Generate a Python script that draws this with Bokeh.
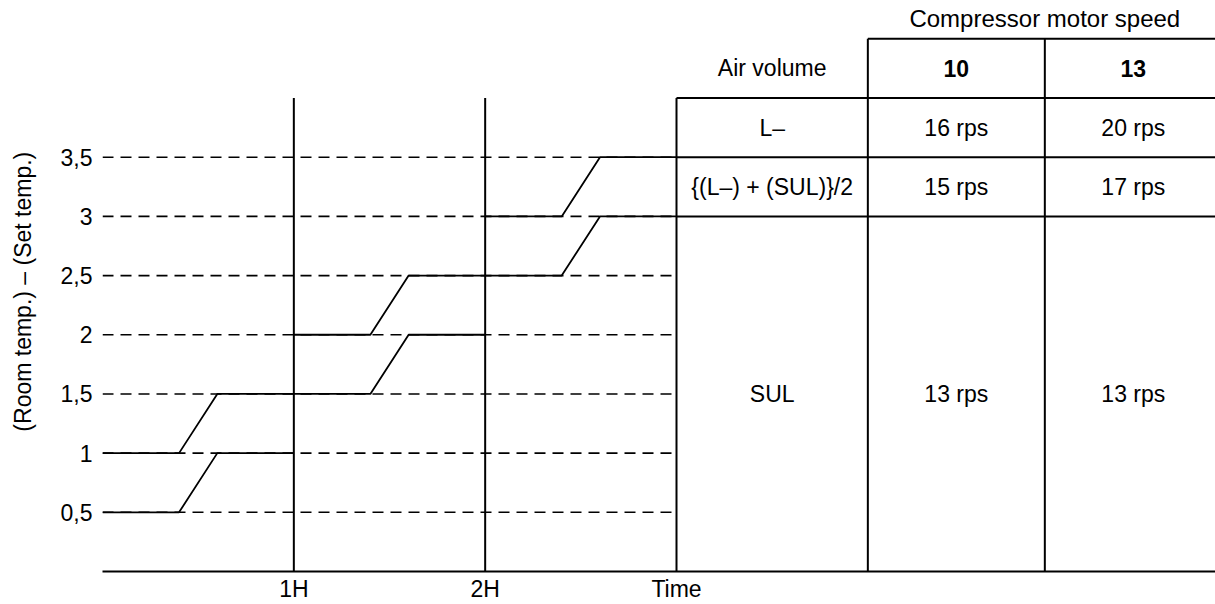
from bokeh.plotting import figure
from bokeh.layouts import row
from bokeh.models import Range1d, FixedTicker, ColumnDataSource, Label
from bokeh.core.properties import value
from bokeh.embed import file_html
from bokeh.resources import INLINE

# ---------------- data ----------------
levels = [0.5, 1, 1.5, 2, 2.5, 3, 3.5]
level_labels = ["0,5", "1", "1,5", "2", "2,5", "3", "3,5"]
hour_ticks = [1, 2, 3]
hour_labels = ["1H", "2H", "Time"]

# step curves (x in hours, y = room temp - set temp)
lower_x = [[0, 0.4, 0.6, 1], [1, 1.4, 1.6, 2], [2, 2.4, 2.6, 3]]
lower_y = [[0.5, 0.5, 1.0, 1.0], [1.5, 1.5, 2.0, 2.0], [2.5, 2.5, 3.0, 3.0]]
upper_x = [[0, 0.4, 0.6, 1], [1, 1.4, 1.6, 2], [2, 2.4, 2.6, 3]]
upper_y = [[1.0, 1.0, 1.5, 1.5], [2.0, 2.0, 2.5, 2.5], [3.0, 3.0, 3.5, 3.5]]

# table
table_title = "Compressor motor speed"
air_volume_header = "Air volume"
speed_headers = ["10", "13"]
air_volume = ["L–", "{(L–) + (SUL)}/2", "SUL"]
speed_10 = ["16 rps", "15 rps", "13 rps"]
speed_13 = ["20 rps", "17 rps", "13 rps"]
y_title = "(Room temp.) – (Set temp.)"

# ---------------- layout ----------------
FONT = "Liberation Sans"
FS = "23px"
INK = "#000000"

col_edges = [3, 4, 4.925, 5.85]          # table column boundaries (x units)
row_edges = [4.5, 4.0, 3.5, 3.0, 0.0]    # table row boundaries (y units)

# ---- narrow strip holding the rotated y title ----
lf = figure(width=50, height=604, output_backend="svg", toolbar_location=None,
            x_axis_type=None, y_axis_type=None,
            x_range=Range1d(0, 50), y_range=Range1d(0, 604),
            min_border_left=0, min_border_right=0, min_border_top=0, min_border_bottom=0)
lf.grid.visible = False
lf.outline_line_color = None
lf.background_fill_color = "white"
lf.border_fill_color = "white"
lf.text(x=[22.5], y=[296], text=[y_title], angle=90, angle_units="deg",
        text_font=value(FONT), text_font_size="23px", text_color=INK,
        text_align="center", text_baseline="middle")

# ---- main chart ----
p = figure(width=1165, height=604, output_backend="svg", toolbar_location=None,
           x_range=Range1d(0, 5.817), y_range=Range1d(0, 4.824),
           min_border_left=52, min_border_right=0, min_border_top=0,
           min_border_bottom=30)
p.outline_line_color = None
p.xgrid.grid_line_color = None
p.ygrid.grid_line_color = None
p.background_fill_color = "white"
p.border_fill_color = "white"

# y axis
p.yaxis.ticker = FixedTicker(ticks=levels)
p.yaxis.major_label_overrides = {v: l for v, l in zip(levels, level_labels)}
p.yaxis.axis_line_color = None
p.yaxis.major_tick_line_color = None
p.yaxis.minor_tick_line_color = None
p.yaxis.major_tick_out = 0
p.yaxis.major_tick_in = 0
p.yaxis.major_label_standoff = 10
p.yaxis.major_label_text_font = FONT
p.yaxis.major_label_text_font_size = FS
p.yaxis.major_label_text_color = INK

# x axis
p.xaxis.ticker = FixedTicker(ticks=hour_ticks)
p.xaxis.major_label_overrides = {v: l for v, l in zip(hour_ticks, hour_labels)}
p.xaxis.axis_line_color = INK
p.xaxis.axis_line_width = 2
p.xaxis.major_tick_line_color = None
p.xaxis.minor_tick_line_color = None
p.xaxis.major_tick_out = 0
p.xaxis.major_tick_in = 0
p.xaxis.major_label_standoff = 4
p.xaxis.major_label_text_font = FONT
p.xaxis.major_label_text_font_size = FS
p.xaxis.major_label_text_color = INK

# dashed level lines
t_end = hour_ticks[-1]
p.segment(x0=[0] * len(levels), y0=levels, x1=[t_end] * len(levels), y1=levels,
          line_color=INK, line_width=1.6, line_dash="11 7")

# hour verticals
top_chart = row_edges[1]
p.segment(x0=hour_ticks, y0=[0] * len(hour_ticks), x1=hour_ticks,
          y1=[top_chart] * len(hour_ticks), line_color=INK, line_width=2)

# step curves
p.multi_line(xs=lower_x + upper_x, ys=lower_y + upper_y, line_color=INK, line_width=1.8)

# table grid
p.segment(x0=col_edges[1:3], y0=[0, 0], x1=col_edges[1:3], y1=[row_edges[0]] * 2,
          line_color=INK, line_width=2)
p.segment(x0=[col_edges[1]] + [col_edges[0]] * 3, y0=row_edges[:4],
          x1=[col_edges[3]] * 4, y1=row_edges[:4], line_color=INK, line_width=2)

# table texts
def mid(a, b):
    return (a + b) / 2

cx = [mid(col_edges[i], col_edges[i + 1]) for i in range(3)]
ry = [mid(row_edges[i], row_edges[i + 1]) for i in range(4)]

body = ColumnDataSource(dict(
    x=[cx[0]] * 3 + [cx[1]] * 3 + [cx[2]] * 3 + [cx[0]],
    y=ry[1:] * 3 + [ry[0]],
    t=air_volume + speed_10 + speed_13 + [air_volume_header],
))
p.text(x="x", y="y", text="t", source=body, text_font=value(FONT),
       text_font_size=FS, text_color=INK, text_align="center", text_baseline="middle")

head = ColumnDataSource(dict(x=cx[1:], y=[ry[0]] * 2, t=speed_headers))
p.text(x="x", y="y", text="t", source=head, text_font=value(FONT),
       text_font_size=FS, text_font_style="bold", text_color=INK,
       text_align="center", text_baseline="middle")

p.add_layout(Label(x=col_edges[2], y=4.67, text=table_title, text_font=FONT,
                   text_font_size="24px", text_color=INK, text_align="center",
                   text_baseline="middle"))

layout = row(lf, p)
open("out.html", "w").write(file_html(layout, INLINE))
